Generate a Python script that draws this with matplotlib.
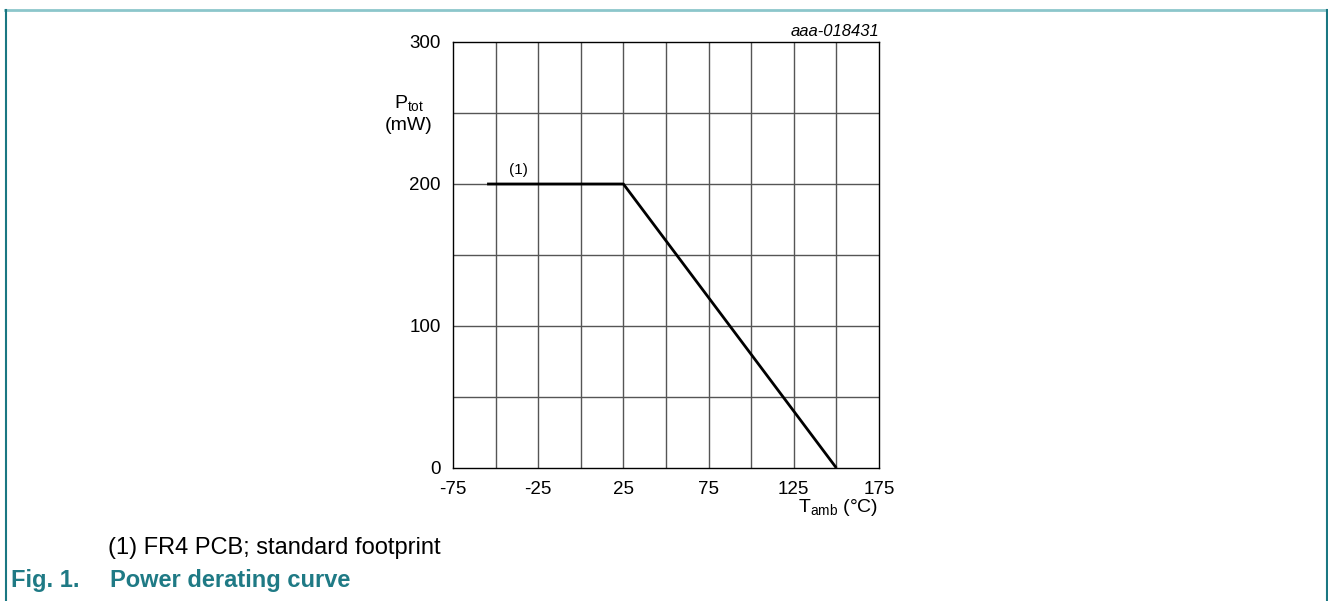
import matplotlib
matplotlib.use("Agg")
import matplotlib.pyplot as plt
from matplotlib.lines import Line2D
import numpy as np

plt.rcParams['font.family'] = ['Liberation Sans', 'DejaVu Sans']

# data
curve_t = [-55, 25, 150]
curve_p = [200, 200, 0]
xticks = [-75, -25, 25, 75, 125, 175]
yticks = [0, 100, 200, 300]
xgrid_step = 25
ygrid_step = 50

W, H = 1328, 601
fig = plt.figure(figsize=(W / 100, H / 100), dpi=100)
fig.patch.set_facecolor('white')

def fx(px):
    return px / W

def fy(py):
    return 1 - py / H

ax_l, ax_r, ax_t, ax_b = 453, 879, 42, 468
ax = fig.add_axes([fx(ax_l), fy(ax_b), (ax_r - ax_l) / W, (ax_b - ax_t) / H])
ax.set_xlim(-75, 175)
ax.set_ylim(0, 300)

for xv in np.arange(-75 + xgrid_step, 175, xgrid_step):
    ax.axvline(xv, color='#555555', lw=1.0, zorder=1)
for yv in np.arange(ygrid_step, 300, ygrid_step):
    ax.axhline(yv, color='#555555', lw=1.0, zorder=1)

ax.plot(curve_t, curve_p, color='black', lw=2.0, zorder=3, solid_capstyle='butt')

ax.set_xticks(xticks)
ax.set_yticks(yticks)
ax.set_xticklabels([str(v) for v in xticks], fontsize=13.5)
ax.set_yticklabels([str(v) for v in yticks], fontsize=13.5)
ax.tick_params(axis='x', length=0, pad=9)
ax.tick_params(axis='y', length=0, pad=9)
for s in ax.spines.values():
    s.set_color('black')
    s.set_linewidth(1.0)

ax.text(-36.5, 210, '(1)', fontsize=11, ha='center', va='center')

fig.text(fx(879), fy(32), 'aaa-018431', fontsize=12, style='italic', ha='right', va='center')
fig.text(fx(409), fy(104), r'P$_{\mathregular{tot}}$', fontsize=14, ha='center', va='center')
fig.text(fx(409), fy(125), '(mW)', fontsize=14, ha='center', va='center')
fig.text(fx(878), fy(507), r'T$_{\mathregular{amb}}$ (°C)', fontsize=14, ha='right', va='center')

fig.text(fx(108), fy(548), '(1) FR4 PCB; standard footprint', fontsize=17, ha='left', va='center')
teal = '#1f7a85'
fig.text(fx(11), fy(581), 'Fig. 1.', fontsize=17, fontweight='bold', color=teal, ha='left', va='center')
fig.text(fx(110), fy(581), 'Power derating curve', fontsize=17, fontweight='bold', color=teal, ha='left', va='center')

# page frame
fig.add_artist(Line2D([fx(5), fx(1327)], [fy(10), fy(10)], color='#8cc6cb', lw=2))
fig.add_artist(Line2D([fx(5.5), fx(5.5)], [fy(10), fy(601)], color='#1a7782', lw=1.5))
fig.add_artist(Line2D([fx(1326.5), fx(1326.5)], [fy(10), fy(601)], color='#1a7782', lw=1.5))

fig.savefig('out.png', dpi=100)
